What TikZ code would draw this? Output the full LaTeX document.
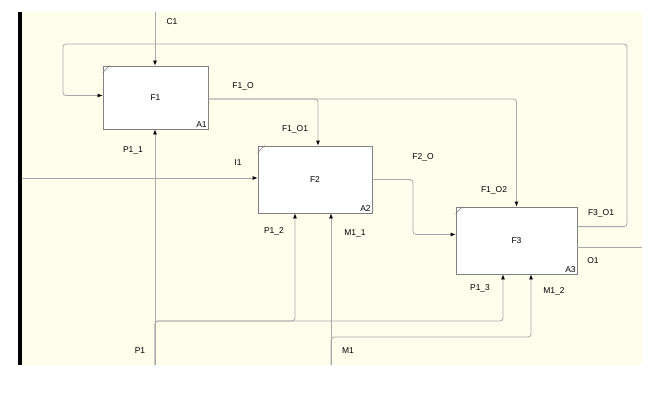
\documentclass[tikz,border=0pt]{standalone}
\usepackage{fontspec}
\setmainfont{Liberation Sans}
\usetikzlibrary{arrows.meta}
\definecolor{paper}{HTML}{FFFDEB}
\definecolor{wire}{HTML}{A8A8A8}
\definecolor{frame}{HTML}{808080}
\begin{document}
\begin{tikzpicture}[x=1pt,y=-1pt,font=\fontsize{8.5}{10}\selectfont,
  box/.style={draw=frame,fill=white,line width=0.8pt,inner sep=0pt},
  flow/.style={draw=wire,line width=0.8pt,rounded corners=3pt,
    -{Latex[length=5pt,width=4pt,color=black]}},
  wire/.style={draw=wire,line width=0.8pt,rounded corners=3pt}]

% sheet
\useasboundingbox (0,0) rectangle (660,401);
\fill[paper] (18,12) rectangle (642,365);
\fill[black] (18,12) rectangle (22,365);

% activities
\node[box,minimum width=105pt,minimum height=63pt] (f1) at (155.5,97.5) {F1};
\node[box,minimum width=114pt,minimum height=67pt] (f2) at (315,179.5) {F2};
\node[box,minimum width=121pt,minimum height=67pt] (f3) at (516.5,240.5) {F3};
\foreach \b/\n in {f1/A1,f2/A2,f3/A3}{
  \node[anchor=south east,inner sep=1.5pt] (\b-num) at (\b.south east) {\n};
  \draw[frame,line width=0.6pt] ([yshift=-7pt]\b.north west) -- ([xshift=7pt]\b.north west);
}

% free ends
\coordinate (c1) at (155,12);
\coordinate (i1) at (22,178);
\coordinate (o1) at (642,247.5);
\coordinate (p1) at (155,365);
\coordinate (m1) at (331,365);

% arrows
\draw[flow] (c1) -- (c1 |- f1.north);
\draw[flow] ([yshift=-20pt]f3.north east) -| (627,44) -- (63,44) |- ([yshift=2pt]f1.west);
\draw[flow] ([yshift=-1.5pt]f1.east) -| ([xshift=3pt]f2.north);
\draw[flow] ([yshift=-1.5pt]f1.east) -| (f3.north);
\draw[flow] (i1) -- (i1 -| f2.west);
\draw[flow] (f2.east) -| (413,200) |- ([yshift=6pt]f3.west);
\draw[wire] ([yshift=-7pt]f3.east) -- (o1);
\draw[flow] (p1) -- (p1 |- f1.south);
\draw[flow] (p1) -- (155,321) -| ([xshift=-20pt]f2.south);
\draw[flow] (p1) -- (155,321) -| ([xshift=-13.5pt]f3.south);
\draw[flow] (m1) -- (m1 |- f2.south);
\draw[flow] (m1) -- (331,337) -| ([xshift=14.5pt]f3.south);

% labels
\node (lc1) at (172,22) {C1};
\node (lf1o) at (243,86) {F1\_O};
\node (lf1o1) at (295,129) {F1\_O1};
\node (lf1o2) at (494,190) {F1\_O2};
\node (li1) at (238,163) {I1};
\node (lf2o) at (423,157) {F2\_O};
\node (lf3o1) at (601,213) {F3\_O1};
\node (lo1) at (593,261) {O1};
\node (lp11) at (133,150) {P1\_1};
\node (lp12) at (274,231) {P1\_2};
\node (lp13) at (480,288) {P1\_3};
\node (lm11) at (355,233) {M1\_1};
\node (lm12) at (554,291) {M1\_2};
\node (lp1) at (140,351) {P1};
\node (lm1) at (348,351) {M1};

\end{tikzpicture}
\end{document}
